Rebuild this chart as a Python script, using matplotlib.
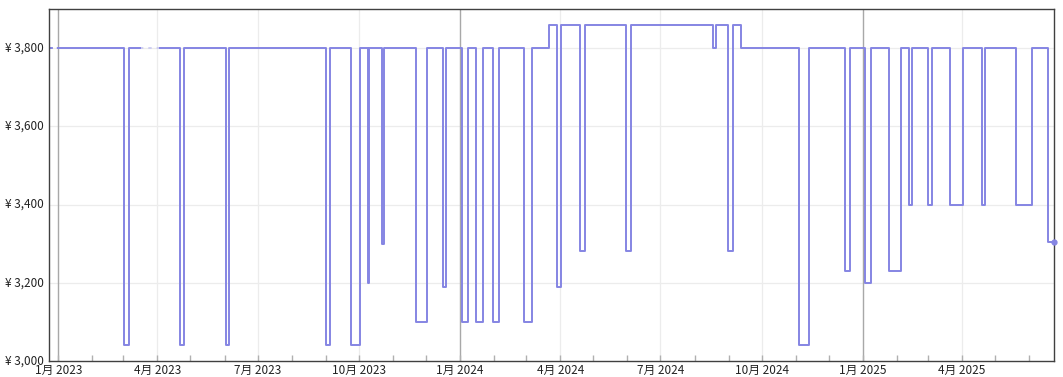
import matplotlib
matplotlib.use("Agg")
import matplotlib.pyplot as plt
import matplotlib.dates as mdates
import matplotlib.ticker as mticker
import numpy as np
import pandas as pd

plt.rcParams['font.family'] = ['Noto Sans CJK SC', 'DejaVu Sans']

# ---- data (step changes: date, price) ----
change_dates = [
    "2023-01-01", "2023-03-02", "2023-03-06", "2023-03-16", "2023-04-03",
    "2023-04-22", "2023-04-25", "2023-06-02", "2023-06-05", "2023-09-01",
    "2023-09-05", "2023-09-24", "2023-10-02", "2023-10-09", "2023-10-10",
    "2023-10-22", "2023-10-24", "2023-11-22", "2023-12-02", "2023-12-16",
    "2023-12-19", "2024-01-03", "2024-01-08", "2024-01-15", "2024-01-22",
    "2024-01-31", "2024-02-05", "2024-02-28", "2024-03-06", "2024-03-22",
    "2024-03-29", "2024-04-02", "2024-04-19", "2024-04-23", "2024-05-31",
    "2024-06-04", "2024-08-18", "2024-08-20", "2024-08-31", "2024-09-05",
    "2024-09-12", "2024-11-04", "2024-11-13", "2024-12-16", "2024-12-20",
    "2025-01-03", "2025-01-08", "2025-01-25", "2025-02-04", "2025-02-12",
    "2025-02-14", "2025-03-01", "2025-03-05", "2025-03-21", "2025-04-02",
    "2025-04-19", "2025-04-22", "2025-05-20", "2025-06-03", "2025-06-18",
    "2025-06-23",
]
prices = [
    3800, 3040, 3800, np.nan, 3800,
    3040, 3800, 3040, 3800, 3040,
    3800, 3040, 3800, 3200, 3800,
    3300, 3800, 3100, 3800, 3190,
    3800, 3100, 3800, 3100, 3800,
    3100, 3800, 3100, 3800, 3860,
    3190, 3860, 3280, 3860, 3280,
    3860, 3800, 3860, 3280, 3860,
    3800, 3040, 3800, 3230, 3800,
    3200, 3800, 3230, 3800, 3400,
    3800, 3400, 3800, 3400, 3800,
    3400, 3800, 3400, 3800, 3305,
    3305,
]
gap_dates = ["2023-03-16", "2023-04-03"]
gap_price = 3800
lead_dates = ["2022-12-24", "2023-01-01"]
lead_price = 3800

x_limits = ["2022-12-23 14:00", "2025-06-23 10:00"]
y_ticks = [3000, 3200, 3400, 3600, 3800]
y_limits = [3000, 3900]

dates = pd.to_datetime(change_dates)
line_color = "#8585e3"

fig = plt.figure(figsize=(10.63, 3.77), dpi=100)
ax = fig.add_axes([49 / 1063, 1 - 361 / 377, (1054 - 49) / 1063, (361 - 9) / 377])

# grid
for yv in y_ticks[1:]:
    ax.axhline(yv, color="#ececec", lw=0.9, zorder=0)
quarters = pd.date_range("2023-01-01", "2025-06-01", freq="QS")
for q in quarters:
    if q.month == 1:
        ax.axvline(q, color="#a8a8a8", lw=1.0, zorder=0.5)
    else:
        ax.axvline(q, color="#ececec", lw=0.9, zorder=0)

ax.step(dates, prices, where="post", color=line_color, lw=1.4, zorder=3)
ax.plot(pd.to_datetime(gap_dates), [gap_price, gap_price], color="#c8c8f0",
        lw=1.2, ls=(0, (2, 3)), zorder=2)
ax.plot(pd.to_datetime(lead_dates), [lead_price, lead_price], color=line_color,
        lw=1.4, ls=(0, (2, 2)), zorder=2)
ax.plot([dates[-1]], [prices[-1]], "o", color=line_color, ms=3.5, zorder=4,
        clip_on=False)

ax.set_xlim(pd.to_datetime(x_limits[0]), pd.to_datetime(x_limits[1]))
ax.set_ylim(*y_limits)
ax.set_yticks(y_ticks)
ax.yaxis.set_major_formatter(mticker.FuncFormatter(lambda v, p: f"¥ {v:,.0f}"))

ax.xaxis.set_major_locator(mdates.MonthLocator(bymonth=[1, 4, 7, 10]))
ax.xaxis.set_minor_locator(mdates.MonthLocator())
ax.xaxis.set_major_formatter(
    mticker.FuncFormatter(lambda v, p: f"{mdates.num2date(v).month}月 {mdates.num2date(v).year}"))

ax.tick_params(axis="x", which="both", direction="in", length=4, width=1,
               color="#b0b0b0", labelsize=8.5, labelcolor="#222222", pad=2)
ax.tick_params(axis="y", which="both", length=0, labelsize=8.5,
               labelcolor="#222222", pad=4)
for lbl in ax.get_yticklabels():
    lbl.set_verticalalignment("center")

for s in ax.spines.values():
    s.set_color("#404040")
    s.set_linewidth(1.0)

fig.savefig("out.png", dpi=100, facecolor="white")
